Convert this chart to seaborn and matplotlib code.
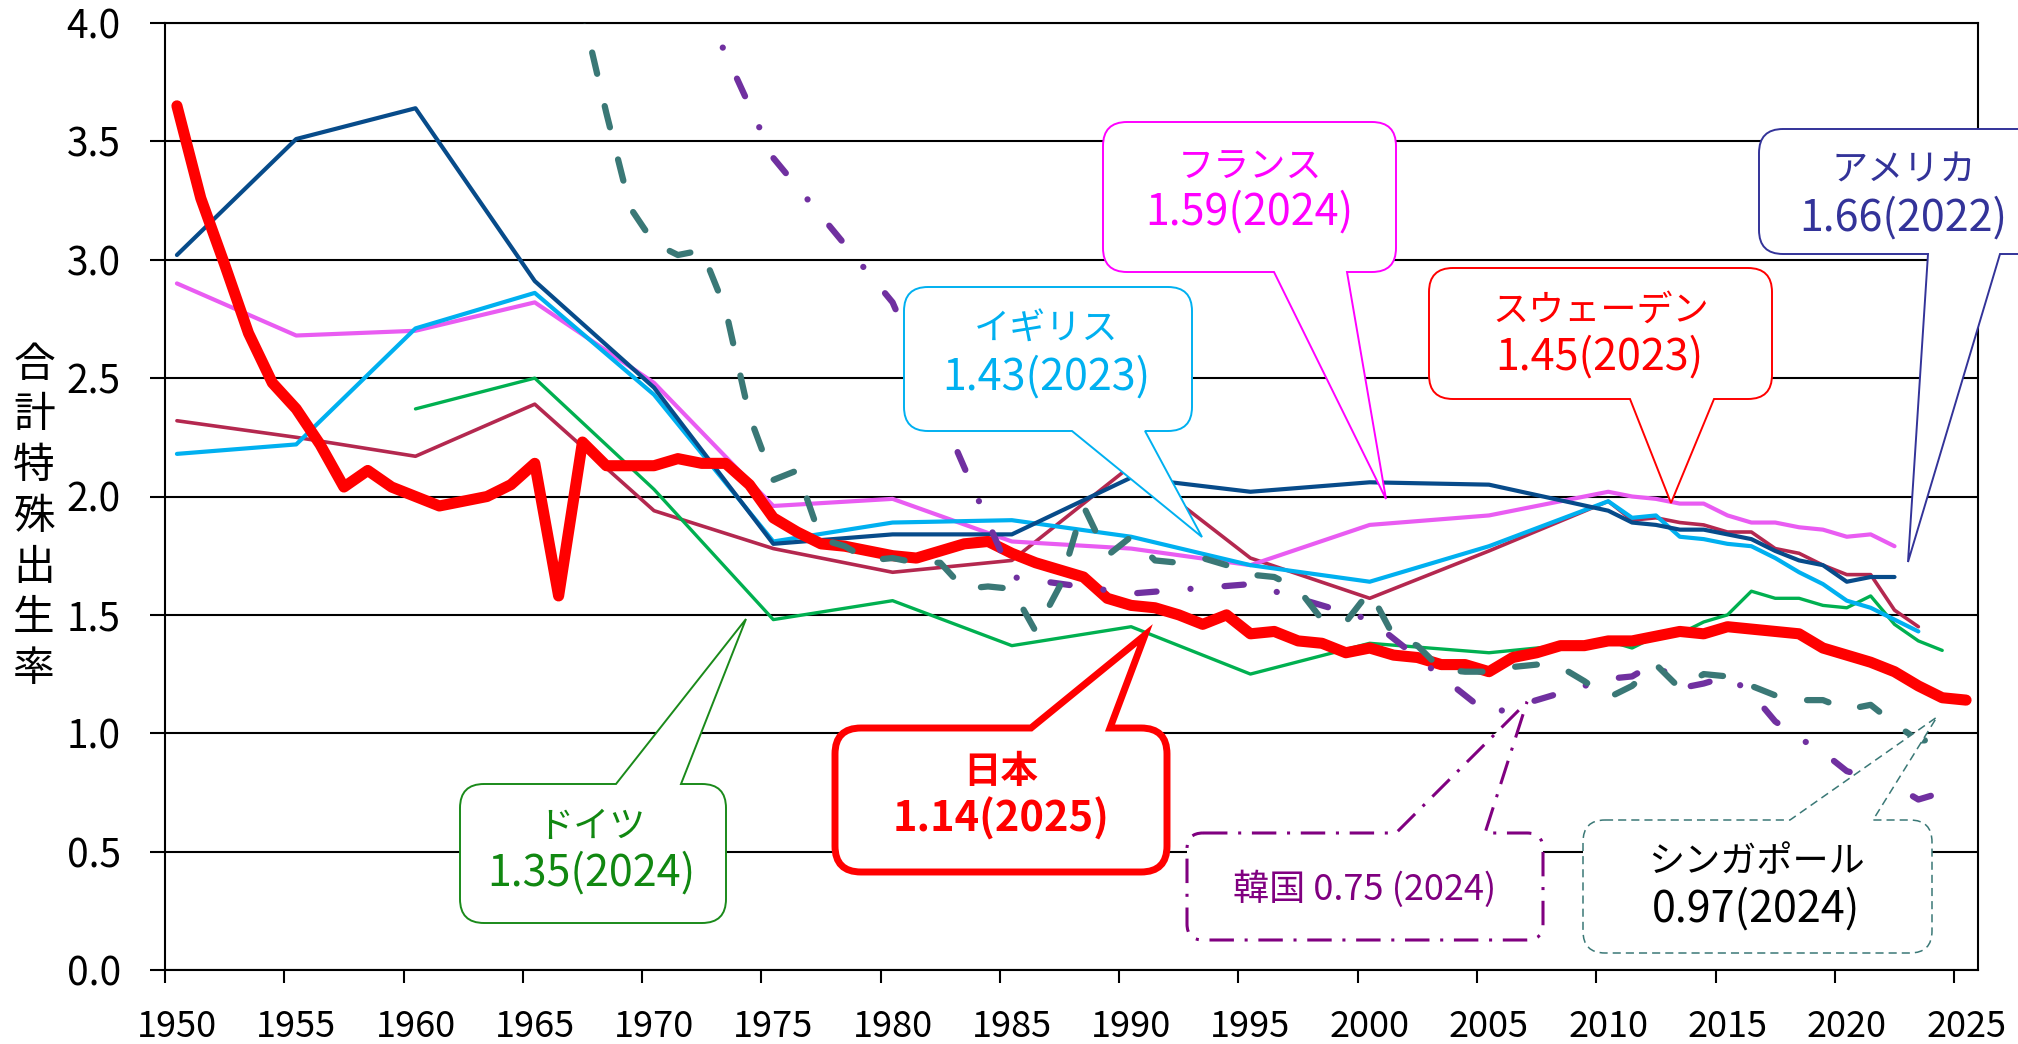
import numpy as np
import pandas as pd
import matplotlib
matplotlib.use("Agg")
import matplotlib.pyplot as plt
import seaborn as sns
from matplotlib.path import Path
from matplotlib.patches import PathPatch
from matplotlib.transforms import Affine2D

# ---------------- data ----------------
years_japan = list(range(1950, 2026))
japan = [3.65, 3.26, 2.98, 2.69, 2.48, 2.37, 2.22, 2.04, 2.11, 2.04,
         2.00, 1.96, 1.98, 2.00, 2.05, 2.14, 1.58, 2.23, 2.13, 2.13,
         2.13, 2.16, 2.14, 2.14, 2.05, 1.91, 1.85, 1.80, 1.79, 1.77,
         1.75, 1.74, 1.77, 1.80, 1.81, 1.76, 1.72, 1.69, 1.66, 1.57,
         1.54, 1.53, 1.50, 1.46, 1.50, 1.42, 1.43, 1.39, 1.38, 1.34,
         1.36, 1.33, 1.32, 1.29, 1.29, 1.26, 1.32, 1.34, 1.37, 1.37,
         1.39, 1.39, 1.41, 1.43, 1.42, 1.45, 1.44, 1.43, 1.42, 1.36,
         1.33, 1.30, 1.26, 1.20, 1.15, 1.14]

years_usa = [1950, 1955, 1960, 1965, 1970, 1975, 1980, 1985, 1990, 1995, 2000, 2005] + list(range(2010, 2023))
usa = [3.02, 3.51, 3.64, 2.91, 2.46, 1.80, 1.84, 1.84, 2.08, 2.02, 2.06, 2.05,
       1.94, 1.89, 1.88, 1.86, 1.86, 1.84, 1.82, 1.77, 1.73, 1.71, 1.64, 1.66, 1.66]

years_france = [1950, 1955, 1960, 1965, 1970, 1975, 1980, 1985, 1990, 1995, 2000, 2005] + list(range(2010, 2023))
france = [2.90, 2.68, 2.70, 2.82, 2.48, 1.96, 1.99, 1.81, 1.78, 1.71, 1.88, 1.92,
          2.02, 2.00, 1.99, 1.97, 1.97, 1.92, 1.89, 1.89, 1.87, 1.86, 1.83, 1.84, 1.79]

years_uk = [1950, 1955, 1960, 1965, 1970, 1975, 1980, 1985, 1990, 1995, 2000, 2005] + list(range(2010, 2024))
uk = [2.18, 2.22, 2.71, 2.86, 2.43, 1.81, 1.89, 1.90, 1.83, 1.71, 1.64, 1.79,
      1.98, 1.91, 1.92, 1.83, 1.82, 1.80, 1.79, 1.74, 1.68, 1.63, 1.56, 1.53, 1.48, 1.43]

years_sweden = [1950, 1955, 1960, 1965, 1970, 1975, 1980, 1985, 1990, 1995, 2000, 2005] + list(range(2010, 2024))
sweden = [2.32, 2.25, 2.17, 2.39, 1.94, 1.78, 1.68, 1.73, 2.13, 1.74, 1.57, 1.77,
          1.98, 1.90, 1.91, 1.89, 1.88, 1.85, 1.85, 1.78, 1.76, 1.71, 1.67, 1.67, 1.52, 1.45]

years_germany = [1960, 1965, 1970, 1975, 1980, 1985, 1990, 1995, 2000, 2005] + list(range(2010, 2025))
germany = [2.37, 2.50, 2.03, 1.48, 1.56, 1.37, 1.45, 1.25, 1.38, 1.34,
           1.39, 1.36, 1.41, 1.42, 1.47, 1.50, 1.60, 1.57, 1.57, 1.54, 1.53, 1.58, 1.46, 1.39, 1.35]

years_korea = [1970, 1975, 1980, 1985, 1990, 1995, 2000, 2005] + list(range(2010, 2025))
korea = [4.53, 3.43, 2.82, 1.66, 1.59, 1.63, 1.48, 1.08,
         1.23, 1.24, 1.30, 1.19, 1.21, 1.24, 1.17, 1.05, 0.98, 0.92, 0.84, 0.81, 0.78, 0.72, 0.75]

years_singapore = list(range(1966, 2025))
singapore = [4.46, 4.05, 3.62, 3.22, 3.07, 3.02, 3.04, 2.79, 2.34, 2.07,
             2.11, 1.82, 1.79, 1.73, 1.74, 1.72, 1.72, 1.61, 1.62, 1.61,
             1.43, 1.62, 1.96, 1.75, 1.83, 1.73, 1.72, 1.74, 1.71, 1.67,
             1.66, 1.61, 1.48, 1.47, 1.60, 1.41, 1.37, 1.27, 1.26, 1.26,
             1.28, 1.29, 1.28, 1.22, 1.15, 1.20, 1.29, 1.19, 1.25, 1.24,
             1.20, 1.16, 1.14, 1.14, 1.10, 1.12, 1.04, 0.97, 0.97]

y_ticks = [0.0, 0.5, 1.0, 1.5, 2.0, 2.5, 3.0, 3.5, 4.0]
x_tick_years = list(range(1950, 2026, 5))
y_label_text = "合計特殊出生率"

# ---------------- style ----------------
sns.set_style("white")
plt.rcParams['font.family'] = ['Noto Sans CJK JP', 'DejaVu Sans']

W, H = 2018, 1044
fig = plt.figure(figsize=(W / 100, H / 100), dpi=100)
ax = fig.add_axes([165 / W, 1 - 970 / H, (1978 - 165) / W, (970 - 23) / H])

series = [
    ("Sweden", years_sweden, sweden, "#B4284F", 2.6, 2, None),
    ("Germany", years_germany, germany, "#00B050", 2.4, 2, None),
    ("France", years_france, france, "#E95CF2", 3.0, 2, None),
    ("UK", years_uk, uk, "#00B0F0", 3.0, 2, None),
    ("USA", years_usa, usa, "#074B8A", 3.0, 2, None),
    ("Japan", years_japan, japan, "#FF0000", 8.0, 3, None),
    ("Korea", years_korea, korea, "#7030A0", 4.5, 4, (3.1, 5.45, 0.01, 5.45)),
    ("Singapore", years_singapore, singapore, "#3A7876", 4.5, 4, (3.5, 5.3)),
]

for name, yrs, vals, color, lw, z, dashes in series:
    df = pd.DataFrame({"year": yrs, "tfr": vals})
    sns.lineplot(data=df, x="year", y="tfr", color=color, linewidth=lw,
                 ax=ax, legend=False, errorbar=None, zorder=z)
    line = ax.lines[-1]
    line.set_solid_capstyle("round")
    line.set_solid_joinstyle("round")
    if dashes is not None:
        line.set_dashes(dashes)
        line.set_dash_capstyle("round")
        line.set_dash_joinstyle("round")

ax.set_xlim(1949.5, 2025.5)
ax.set_ylim(0, 4)
ax.set_xlabel("")
ax.set_ylabel("")

ax.set_yticks(y_ticks)
ax.set_yticklabels([f"{v:.1f}" for v in y_ticks])
ax.tick_params(axis="y", direction="out", length=10.8, width=1.5, pad=21,
               labelsize=28, color="black", labelcolor="black", left=True)
ax.yaxis.grid(True, color="black", linewidth=1.5)
ax.xaxis.grid(False)
ax.set_axisbelow(True)

major_x = np.arange(1949.5, 2025, 5)
ax.set_xticks(major_x)
ax.set_xticklabels([""] * len(major_x))
ax.set_xticks(x_tick_years, minor=True)
ax.set_xticklabels([str(y) for y in x_tick_years], minor=True)
ax.tick_params(axis="x", which="major", direction="out", length=9, width=1.5,
               color="black", bottom=True)
ax.tick_params(axis="x", which="minor", length=0, pad=28, labelsize=26,
               labelcolor="black", bottom=True)

for s in ax.spines.values():
    s.set_visible(True)
    s.set_color("black")
    s.set_linewidth(1.5)

# ---------------- y label (stacked characters) ----------------
for i, ch in enumerate(y_label_text):
    yc = 365 + i * 50.8
    fig.text(34 / W, 1 - yc / H, ch, ha="center", va="center", fontsize=30, color="black")

# ---------------- callouts ----------------
pix2fig = Affine2D().scale(1 / W, -1 / H).translate(0, 1) + fig.transFigure


def callout_path(box, r, side, base, tip):
    x0, y0, x1, y1 = box
    b0, b1 = base
    tx, ty = tip
    verts, codes = [], []

    def mv(p):
        verts.append(p); codes.append(Path.MOVETO)

    def ln(p):
        verts.append(p); codes.append(Path.LINETO)

    def cv(c, p):
        verts.extend([c, p]); codes.extend([Path.CURVE3, Path.CURVE3])

    mv((x0 + r, y0))
    if side == "top":
        ln((b0, y0)); ln((tx, ty)); ln((b1, y0))
    ln((x1 - r, y0))
    cv((x1, y0), (x1, y0 + r))
    ln((x1, y1 - r))
    cv((x1, y1), (x1 - r, y1))
    if side == "bottom":
        ln((b1, y1)); ln((tx, ty)); ln((b0, y1))
    ln((x0 + r, y1))
    cv((x0, y1), (x0, y1 - r))
    ln((x0, y0 + r))
    cv((x0, y0), (x0 + r, y0))
    verts.append((x0 + r, y0)); codes.append(Path.CLOSEPOLY)
    return Path(verts, codes)


callouts = [
    dict(box=(1103, 122, 1396, 272), r=24, side="bottom", base=(1274, 1347), tip=(1386, 499),
         ec="#FF00FF", tc="#FF00FF", lw=1.4, ls="-",
         texts=[("フランス", 1250, 167, 26, "normal"), ("1.59(2024)", 1249, 213, 31, "normal")]),
    dict(box=(904, 287, 1192, 431), r=24, side="bottom", base=(1072, 1145), tip=(1202, 537),
         ec="#00B0F0", tc="#00B0F0", lw=1.4, ls="-",
         texts=[("イギリス", 1046, 330, 26, "normal"), ("1.43(2023)", 1046, 378, 31, "normal")]),
    dict(box=(1429, 268, 1772, 399), r=24, side="bottom", base=(1630, 1714), tip=(1671, 503),
         ec="#FF0000", tc="#FF0000", lw=1.4, ls="-",
         texts=[("スウェーデン", 1601, 311, 26, "normal"), ("1.45(2023)", 1599, 358, 31, "normal")]),
    dict(box=(1759, 129, 2047, 254), r=24, side="bottom", base=(1928, 2000), tip=(1908, 562),
         ec="#333399", tc="#333399", lw=1.4, ls="-",
         texts=[("アメリカ", 1904, 171, 26, "normal"), ("1.66(2022)", 1903, 219, 31, "normal")]),
    dict(box=(460, 784, 726, 923), r=24, side="top", base=(616, 681), tip=(746, 619),
         ec="#1A8A1A", tc="#118811", lw=1.4, ls="-",
         texts=[("ドイツ", 591, 827, 26, "normal"), ("1.35(2024)", 591, 874, 31, "normal")]),
    dict(box=(835, 728, 1167, 872), r=26, side="top", base=(1031, 1110), tip=(1145, 635),
         ec="#FF0000", tc="#FF0000", lw=5.0, ls="-",
         texts=[("日本", 1001, 772, 27, "bold"), ("1.14(2025)", 1001, 819, 30, "bold")]),
    dict(box=(1187, 833, 1543, 940), r=16, side="top", base=(1396, 1485), tip=(1527, 702),
         ec="#800080", tc="#800080", lw=2.2, ls=(0, (8, 3.5, 1, 3.5)),
         texts=[("韓国 0.75 (2024)", 1365, 889, 26, "normal")]),
    dict(box=(1583, 820, 1932, 953), r=22, side="top", base=(1790, 1873), tip=(1937, 717),
         ec="#3A7876", tc="black", lw=1.1, ls=(0, (5.3, 3.3)),
         texts=[("シンガポール", 1757, 862, 26, "normal"), ("0.97(2024)", 1756, 910, 31, "normal")]),
]

for c in callouts:
    path = callout_path(c["box"], c["r"], c["side"], c["base"], c["tip"])
    patch = PathPatch(path, facecolor="white", edgecolor=c["ec"], linewidth=c["lw"],
                      linestyle=c["ls"], joinstyle="miter", transform=pix2fig, zorder=5)
    fig.add_artist(patch)
    for s, x, y, fs, fw in c["texts"]:
        fig.text(x / W, 1 - y / H, s, ha="center", va="center", fontsize=fs,
                 fontweight=fw, color=c["tc"], zorder=6)

fig.savefig("out.png", dpi=100, facecolor="white")
